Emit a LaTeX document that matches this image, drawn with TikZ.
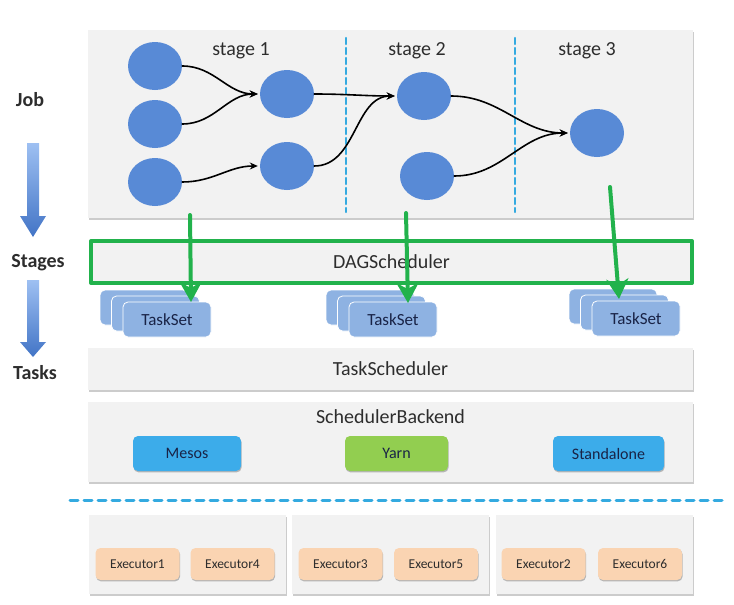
\documentclass[tikz,border=0pt]{standalone}
\usepackage{fontspec}
\setmainfont{Carlito}
\usetikzlibrary{arrows.meta,shapes.geometric,shadows}
\definecolor{panelgray}{RGB}{242,242,242}
\definecolor{rddblue}{RGB}{88,138,214}
\definecolor{cutblue}{RGB}{52,170,224}
\definecolor{dagreen}{RGB}{34,178,76}
\definecolor{tsblue}{RGB}{142,178,226}
\definecolor{mesosblue}{RGB}{60,172,234}
\definecolor{yarngreen}{RGB}{146,206,80}
\definecolor{execpeach}{RGB}{250,212,178}
\definecolor{inkgray}{RGB}{45,45,45}
\definecolor{inknavy}{RGB}{25,35,70}
\tikzset{
  panel/.style={fill=panelgray, drop shadow={shadow xshift=0.6pt, shadow yshift=-1.6pt, fill=black, opacity=0.2}},
  rdd/.style={ellipse, fill=rddblue, inner sep=0pt, minimum width=54, minimum height=48},
  flow/.style={line width=1.6pt, -{Stealth[length=8pt,width=7pt]}, shorten >=2pt},
  cut/.style={cutblue, line width=2.2pt, dash pattern=on 6pt off 4pt},
  taskset/.style={rounded corners=5pt, fill=tsblue, draw=white, line width=0.8pt, minimum width=88, minimum height=35, text=inknavy, font=\fontsize{17}{20}\selectfont},
  backend/.style={rounded corners=5pt, minimum width=108, minimum height=35, text=inknavy, font=\fontsize{16}{19}\selectfont, drop shadow={shadow xshift=0.6pt, shadow yshift=-1.4pt, fill=black, opacity=0.25}},
  executor/.style={rounded corners=5pt, fill=execpeach, minimum width=84, minimum height=32, text=inkgray, font=\fontsize{13.5}{16}\selectfont, drop shadow={shadow xshift=0.6pt, shadow yshift=-1.4pt, fill=black, opacity=0.25}},
  dagarrow/.style={dagreen, line width=4pt, -{Stealth[length=20pt,width=22pt,inset=6pt]}},
  levelarrow/.style={top color={rgb,255:red,158;green,192;blue,242}, bottom color={rgb,255:red,66;green,116;blue,198}}
}
\begin{document}
\begin{tikzpicture}[x=1pt, y=-1pt, line join=round, line cap=round]
\useasboundingbox (0,0) rectangle (734,605);
% job panel with the three stages
\fill[panel] (88,30) rectangle (693,218);
\draw[cut] (346,38)--(346,212);
\draw[cut] (515,38)--(515,212);
\node[text=inkgray, font=\fontsize{20}{23}\selectfont] (st1) at (241,51) {stage 1};
\node[text=inkgray, font=\fontsize{20}{23}\selectfont] (st2) at (417,51) {stage 2};
\node[text=inkgray, font=\fontsize{20}{23}\selectfont] (st3) at (587,51) {stage 3};
\node[rdd] (r1) at (155,66) {};
\node[rdd] (r2) at (155,124) {};
\node[rdd] (r3) at (155,182) {};
\node[rdd] (r4) at (287,94) {};
\node[rdd] (r5) at (287,166) {};
\node[rdd] (r6) at (424,96) {};
\node[rdd] (r7) at (427,176) {};
\node[rdd] (r8) at (597,133) {};
\draw[flow] (r1.east) to[out=0,in=180] (r4.west);
\draw[flow] (r2.east) to[out=0,in=180] (r4.west);
\draw[flow] (r3.east) to[out=0,in=180] (r5.west);
\draw[flow] (r4.east) to[out=0,in=180] (r6.west);
\draw[flow] (r5.east) to[out=0,in=180] (r6.west);
\draw[flow] (r6.east) to[out=0,in=180] (r8.west);
\draw[flow] (r7.east) to[out=0,in=180] (r8.west);
% levels on the left
\node[text=inkgray, font=\bfseries\fontsize{20}{24}\selectfont] (job) at (30,100) {Job};
\node[text=inkgray, font=\bfseries\fontsize{20}{24}\selectfont] (stages) at (38,263) {Stages};
\node[text=inkgray, font=\bfseries\fontsize{20}{24}\selectfont] (tasks) at (35,373) {Tasks};
\shade[levelarrow] (27,143)--(39,143)--(39,216)--(46,216)--(33,237)--(20,216)--(27,216)--cycle;
\shade[levelarrow] (27,280)--(39,280)--(39,342)--(46,342)--(33,357)--(20,342)--(27,342)--cycle;
% schedulers
\node[panel, draw=dagreen, line width=4pt, minimum width=601, minimum height=42, text=inkgray, font=\fontsize{20}{24}\selectfont] (dag) at (391.5,262) {DAGScheduler};
\node[taskset] (ts1c) at (144,307.5) {};
\node[taskset] (ts1b) at (155.5,313.5) {};
\node[taskset] (ts1) at (167,319.5) {TaskSet};
\node[taskset] (ts2c) at (370,307.5) {};
\node[taskset] (ts2b) at (381.5,313.5) {};
\node[taskset] (ts2) at (393,319.5) {TaskSet};
\node[taskset] (ts3c) at (613,306.5) {};
\node[taskset] (ts3b) at (624.5,312.5) {};
\node[taskset] (ts3) at (636,318.5) {TaskSet};
\node[panel, minimum width=605, minimum height=42, text=inkgray, font=\fontsize{20}{24}\selectfont] (tsched) at (390.5,369) {TaskScheduler};
\fill[panel] (88,402) rectangle (693,482);
\node[text=inkgray, font=\fontsize{20}{24}\selectfont] (sbe) at (390.5,417) {SchedulerBackend};
\node[backend, fill=mesosblue] (mesos) at (187,453.5) {Mesos};
\node[backend, fill=yarngreen, minimum width=103] (yarn) at (396.5,453.5) {Yarn};
\node[backend, fill=mesosblue, minimum width=111] (standalone) at (608.5,453.5) {Standalone};
% stage -> taskset
\coordinate (g1s) at (190,215);
\coordinate (g1e) at (191,302);
\coordinate (g2s) at (406,213);
\coordinate (g2e) at (408,303);
\coordinate (g3s) at (610,187);
\coordinate (g3e) at (619,299);
\draw[dagarrow] (g1s)--(g1e);
\draw[dagarrow] (g2s)--(g2e);
\draw[dagarrow] (g3s)--(g3e);
% cluster side
\draw[cutblue, line width=3pt, dash pattern=on 8pt off 6pt] (70,500)--(723,500);
\fill[panel] (89,515) rectangle (286,594);
\fill[panel] (292,515) rectangle (489,594);
\fill[panel] (496,515) rectangle (693,594);
\node[executor] (ex1) at (137.5,564) {Executor1};
\node[executor] (ex4) at (232.5,564) {Executor4};
\node[executor] (ex3) at (340.5,564) {Executor3};
\node[executor] (ex5) at (436,564) {Executor5};
\node[executor] (ex2) at (543.5,564) {Executor2};
\node[executor] (ex6) at (640,564) {Executor6};
\end{tikzpicture}
\end{document}
